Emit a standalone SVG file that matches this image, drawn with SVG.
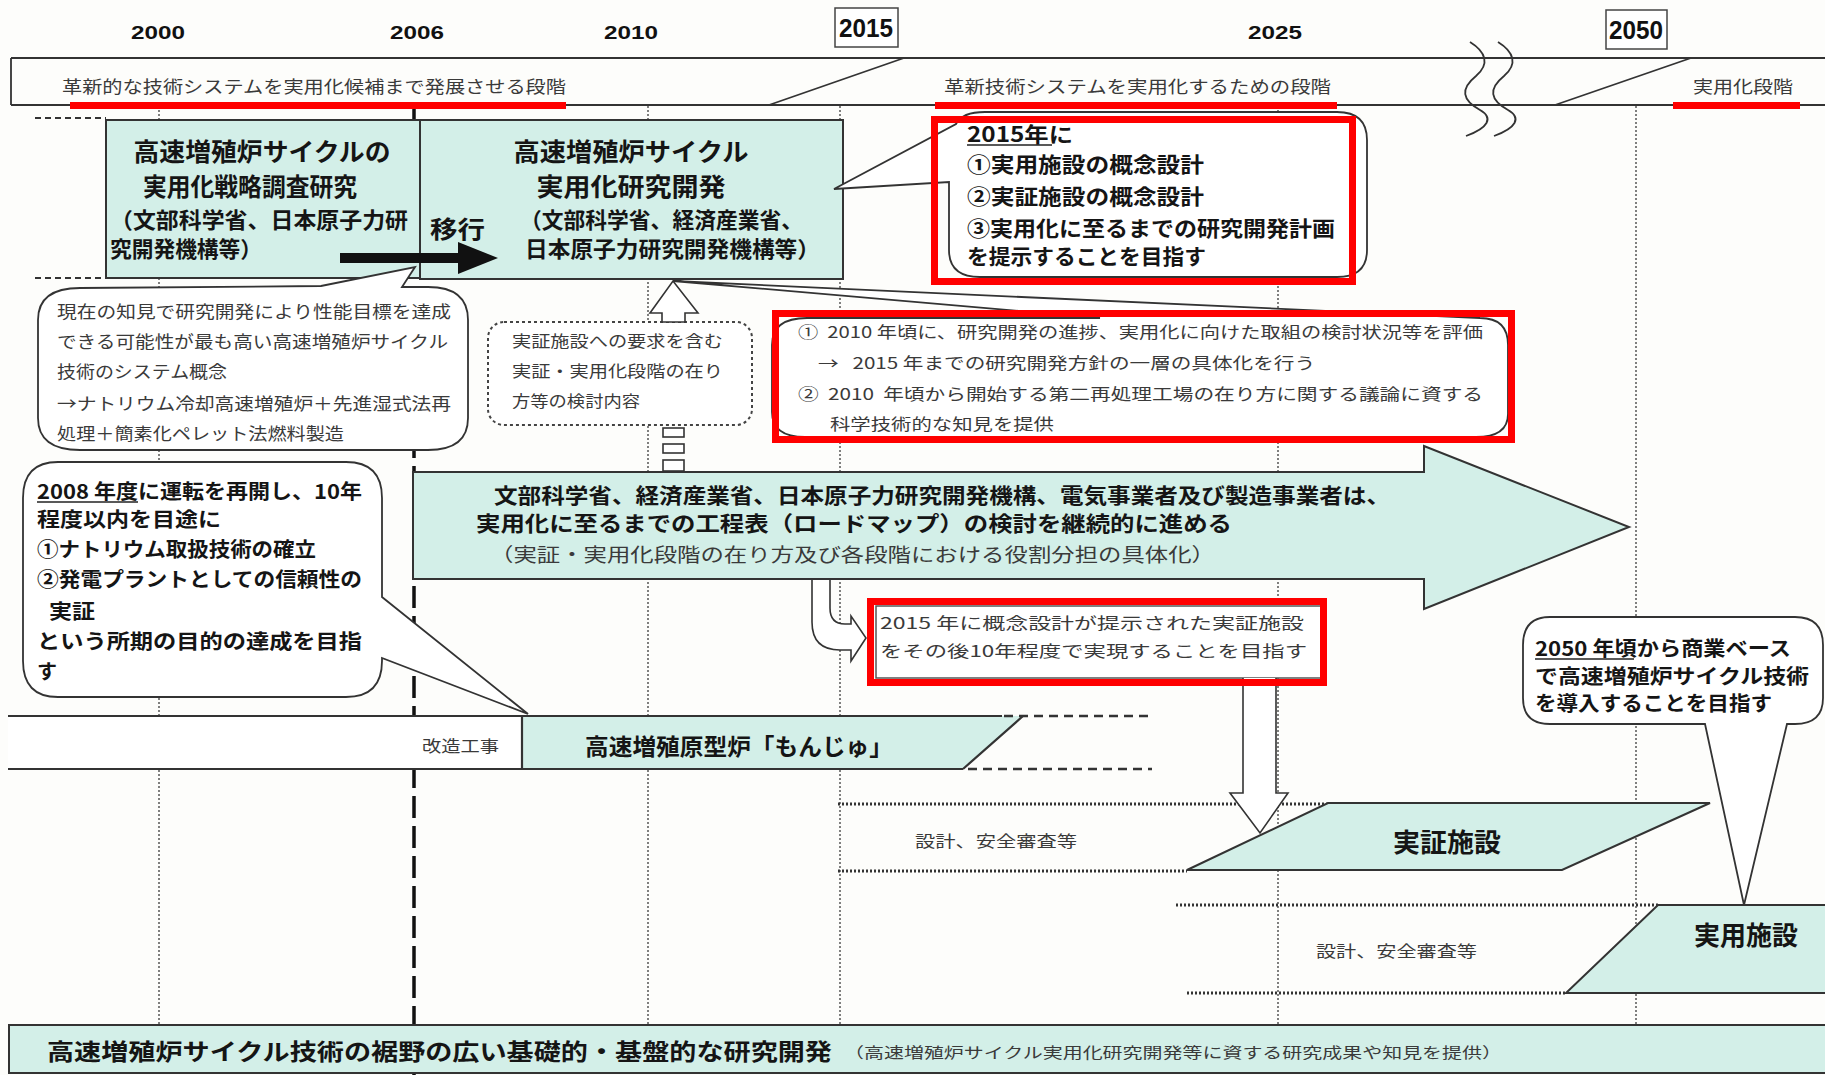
<svg xmlns="http://www.w3.org/2000/svg" width="1825" height="1075" viewBox="0 0 1825 1075">
<defs>
<style>
.bg{fill:#fdfdfb}
.cy{fill:#d3efe8;stroke:#333;stroke-width:2}
.wb{fill:#fff;stroke:#333;stroke-width:1.8}
.ln{fill:none;stroke:#333;stroke-width:1.8}
.grid{fill:none;stroke:#555;stroke-width:1.5;stroke-dasharray:2 2}
.g06{fill:none;stroke:#111;stroke-width:3.5;stroke-dasharray:22 8}
.hd{fill:none;stroke:#333;stroke-width:2.5;stroke-dasharray:9 6}
.hdot{fill:none;stroke:#333;stroke-width:3;stroke-dasharray:2 2}
.dotb{fill:#fff;stroke:#444;stroke-width:2;stroke-dasharray:3 3}
.red{fill:none;stroke:#f00;stroke-width:7}
.redf{fill:#f00}
.ul{stroke:#222;stroke-width:1.5}
text{font-family:"Noto Sans CJK JP","Noto Sans",sans-serif;dominant-baseline:central}
.b{font-weight:700;fill:#151515}
.r{font-weight:400;fill:#3a3a3a}
.yr{font-family:"Liberation Sans",Arial,sans-serif;font-weight:700;fill:#111;text-anchor:middle}
.c{text-anchor:middle}
</style>
</defs>
<rect class="bg" x="0" y="0" width="1825" height="1075"/>

<g id="years">
<text class="yr" x="158" y="32" font-size="19" textLength="54" lengthAdjust="spacingAndGlyphs">2000</text>
<text class="yr" x="417" y="32" font-size="19" textLength="54" lengthAdjust="spacingAndGlyphs">2006</text>
<text class="yr" x="631" y="32" font-size="19" textLength="54" lengthAdjust="spacingAndGlyphs">2010</text>
<rect x="835" y="8" width="63" height="39" fill="#fff" stroke="#444" stroke-width="1.5"/>
<text class="yr" x="866" y="28" font-size="26" textLength="54" lengthAdjust="spacingAndGlyphs">2015</text>
<text class="yr" x="1275" y="32" font-size="19" textLength="54" lengthAdjust="spacingAndGlyphs">2025</text>
<rect x="1606" y="10" width="61" height="39" fill="#fff" stroke="#444" stroke-width="1.5"/>
<text class="yr" x="1636" y="30" font-size="26" textLength="54" lengthAdjust="spacingAndGlyphs">2050</text>
</g>

<g id="phase-banner">
<path class="ln" d="M11 58 H1825 M11 105 H1825 M11 58 V105"/>
<path class="ln" d="M769 105 L904 58 M1555 105 L1691 58"/>
<path class="ln" d="M1470 42 C1486 52 1490 64 1476 76 C1460 89 1462 100 1480 110 C1494 118 1488 128 1466 136"/>
<path class="ln" d="M1498 42 C1514 52 1518 64 1504 76 C1488 89 1490 100 1508 110 C1522 118 1516 128 1494 136"/>
<text class="r" x="62" y="85" font-size="17" fill="#444" textLength="504" lengthAdjust="spacingAndGlyphs">革新的な技術システムを実用化候補まで発展させる段階</text>
<text class="r" x="944" y="85" font-size="17" textLength="387" lengthAdjust="spacingAndGlyphs">革新技術システムを実用化するための段階</text>
<text class="r" x="1693" y="85" font-size="17" textLength="100" lengthAdjust="spacingAndGlyphs">実用化段階</text>
</g>

<g id="grid">
<path class="grid" d="M159 106 V1025 M648 106 V1025 M840 106 V1025 M1278 106 V1025 M1636 106 V1025"/>
<path class="g06" d="M414 106 V1075"/>
<path class="ln" style="stroke-width:2;stroke-dasharray:6 4" d="M35 118 H106 M35 278 H106"/>
<path class="hdot" d="M838 804 H1328 M838 871 H1187 M1176 905 H1658 M1187 993 H1566"/>
</g>

<g id="box-strategy">
<rect class="cy" x="106" y="120" width="314" height="158"/>
<text class="b c" x="262" y="150" font-size="25" textLength="257" lengthAdjust="spacingAndGlyphs">高速増殖炉サイクルの</text>
<text class="b c" x="250" y="185" font-size="25" textLength="214" lengthAdjust="spacingAndGlyphs">実用化戦略調査研究</text>
<text class="b" x="110" y="218" font-size="22" textLength="298" lengthAdjust="spacingAndGlyphs">（文部科学省、日本原子力研</text>
<text class="b" x="110" y="247" font-size="22" textLength="152" lengthAdjust="spacingAndGlyphs">究開発機構等）</text>
</g>

<g id="box-rd">
<rect class="cy" x="420" y="120" width="423" height="159"/>
<text class="b c" x="631" y="150" font-size="25" textLength="235" lengthAdjust="spacingAndGlyphs">高速増殖炉サイクル</text>
<text class="b c" x="631" y="185" font-size="25" textLength="189" lengthAdjust="spacingAndGlyphs">実用化研究開発</text>
<text class="b" x="520" y="218" font-size="22" textLength="283" lengthAdjust="spacingAndGlyphs">（文部科学省、経済産業省、</text>
<text class="b" x="525" y="247" font-size="22" textLength="295" lengthAdjust="spacingAndGlyphs">日本原子力研究開発機構等）</text>
<text class="b" x="430" y="227" font-size="24" textLength="55" lengthAdjust="spacingAndGlyphs">移行</text>
</g>

<g id="callout-2015">
<path class="wb" d="M985 112 L1337 112 Q1367 112 1367 140 L1367 250 Q1367 277 1337 277 L980 277 Q949 277 949 250 L949 182 L834 189 L956 124 Q962 112 985 112 Z"/>
<text class="b" x="967" y="133" font-size="21" textLength="106" lengthAdjust="spacingAndGlyphs">2015年に</text>
<path class="ul" d="M967 145 H1052"/>
<text class="b" x="967" y="163" font-size="21" textLength="237" lengthAdjust="spacingAndGlyphs">①実用施設の概念設計</text>
<text class="b" x="967" y="195" font-size="21" textLength="237" lengthAdjust="spacingAndGlyphs">②実証施設の概念設計</text>
<text class="b" x="967" y="227" font-size="21" textLength="368" lengthAdjust="spacingAndGlyphs">③実用化に至るまでの研究開発計画</text>
<text class="b" x="967" y="255" font-size="21" textLength="239" lengthAdjust="spacingAndGlyphs">を提示することを目指す</text>
</g>

<g id="callout-concept">
<path class="wb" d="M38 320 Q38 288 80 288 L321 286 L415 267 L402 287 L428 287 Q468 287 468 320 L468 418 Q468 450 428 450 L80 450 Q38 450 38 418 Z"/>
<text class="r" x="57" y="310" font-size="17" textLength="394" lengthAdjust="spacingAndGlyphs">現在の知見で研究開発により性能目標を達成</text>
<text class="r" x="57" y="340" font-size="17" textLength="391" lengthAdjust="spacingAndGlyphs">できる可能性が最も高い高速増殖炉サイクル</text>
<text class="r" x="57" y="370" font-size="17" textLength="170" lengthAdjust="spacingAndGlyphs">技術のシステム概念</text>
<text class="r" x="57" y="402" font-size="17" textLength="394" lengthAdjust="spacingAndGlyphs">→ナトリウム冷却高速増殖炉＋先進湿式法再</text>
<text class="r" x="57" y="432" font-size="17" textLength="287" lengthAdjust="spacingAndGlyphs">処理＋簡素化ペレット法燃料製造</text>
</g>

<g id="callout-requirements">
<rect class="dotb" x="488" y="322" width="264" height="103" rx="16"/>
<text class="r" x="512" y="340" font-size="16" textLength="211" lengthAdjust="spacingAndGlyphs">実証施設への要求を含む</text>
<text class="r" x="512" y="370" font-size="16" textLength="211" lengthAdjust="spacingAndGlyphs">実証・実用化段階の在り</text>
<text class="r" x="512" y="400" font-size="16" textLength="128" lengthAdjust="spacingAndGlyphs">方等の検討内容</text>
</g>

<g id="callout-evaluation">
<path class="wb" d="M807 318 L1100 318 L673 281 L1480 318 Q1508 318 1508 345 L1508 414 Q1508 437 1476 437 L805 437 Q772 437 772 412 L772 345 Q772 318 807 318 Z"/>
<text class="r" x="798" y="331" font-size="16" textLength="685" lengthAdjust="spacingAndGlyphs">①&#160;&#160;2010 年頃に、研究開発の進捗、実用化に向けた取組の検討状況等を評価</text>
<text class="r" x="818" y="362" font-size="16" textLength="497" lengthAdjust="spacingAndGlyphs">→&#160;&#160;&#160;2015 年までの研究開発方針の一層の具体化を行う</text>
<text class="r" x="798" y="393" font-size="16" textLength="685" lengthAdjust="spacingAndGlyphs">②&#160;&#160;2010&#160;&#160;年頃から開始する第二再処理工場の在り方に関する議論に資する</text>
<text class="r" x="830" y="423" font-size="16" textLength="224" lengthAdjust="spacingAndGlyphs">科学技術的な知見を提供</text>
</g>

<g id="roadmap-arrow">
<path class="cy" d="M413 472 L1424 472 L1424 446 L1629 527 L1424 609 L1424 579 L413 579 Z"/>
<text class="b" x="494" y="494" font-size="21" textLength="896" lengthAdjust="spacingAndGlyphs">文部科学省、経済産業省、日本原子力研究開発機構、電気事業者及び製造事業者は、</text>
<text class="b" x="476" y="522" font-size="21" textLength="756" lengthAdjust="spacingAndGlyphs">実用化に至るまでの工程表（ロードマップ）の検討を継続的に進める</text>
<text class="r" x="490" y="553" font-size="19" textLength="725" lengthAdjust="spacingAndGlyphs">（実証・実用化段階の在り方及び各段階における役割分担の具体化）</text>
</g>

<g id="box-demo-goal">
<rect x="876" y="606" width="449" height="72" fill="#fff" stroke="#555" stroke-width="1.5"/>
<text class="r" x="880" y="622" font-size="16" textLength="424" lengthAdjust="spacingAndGlyphs">2015 年に概念設計が提示された実証施設</text>
<text class="r" x="880" y="650" font-size="16" textLength="427" lengthAdjust="spacingAndGlyphs">をその後10年程度で実現することを目指す</text>
</g>

<g id="callout-monju">
<path class="wb" d="M58 462 L346 462 Q382 462 382 498 L382 597 L528 714 L382 658 L382 661 Q382 697 346 697 L58 697 Q23 697 23 661 L23 498 Q23 462 58 462 Z"/>
<text class="b" x="37" y="490" font-size="20" textLength="325" lengthAdjust="spacingAndGlyphs">2008 年度に運転を再開し、10年</text>
<path class="ul" d="M37 502 H138"/>
<text class="b" x="37" y="518" font-size="20" textLength="184" lengthAdjust="spacingAndGlyphs">程度以内を目途に</text>
<text class="b" x="37" y="548" font-size="20" textLength="279" lengthAdjust="spacingAndGlyphs">①ナトリウム取扱技術の確立</text>
<text class="b" x="37" y="578" font-size="20" textLength="325" lengthAdjust="spacingAndGlyphs">②発電プラントとしての信頼性の</text>
<text class="b" x="49" y="610" font-size="20" textLength="46" lengthAdjust="spacingAndGlyphs">実証</text>
<text class="b" x="37" y="640" font-size="20" textLength="325" lengthAdjust="spacingAndGlyphs">という所期の目的の達成を目指</text>
<text class="b" x="37" y="670" font-size="20">す</text>
</g>

<g id="monju-bar">
<rect x="8" y="716" width="514" height="53" fill="#fff"/>
<path class="cy" d="M522 716 L1023 716 L963 769 L522 769 Z" style="stroke:none"/>
<path class="ln" style="stroke-width:2.2" d="M8 716 H1002 M8 769 H963 M522 716 V769 M1023 716 L963 769"/>
<path class="hd" d="M1004 716 H1152 M968 769 H1152"/>
<text class="r" x="422" y="745" font-size="16" textLength="77" lengthAdjust="spacingAndGlyphs">改造工事</text>
<text class="b" x="585" y="745" font-size="23" textLength="308" lengthAdjust="spacingAndGlyphs">高速増殖原型炉「もんじゅ」</text>
</g>

<g id="demo-facility">
<path class="cy" d="M1328 803 L1710 803 L1562 870 L1187 870 Z"/>
<text class="b c" x="1447" y="840" font-size="26" textLength="108" lengthAdjust="spacingAndGlyphs">実証施設</text>
<text class="r" x="915" y="840" font-size="16" textLength="162" lengthAdjust="spacingAndGlyphs">設計、安全審査等</text>
</g>

<g id="commercial-facility">
<path class="cy" d="M1658 905 L1840 905 L1840 993 L1566 993 Z"/>
<text class="b c" x="1746" y="933" font-size="26" textLength="104" lengthAdjust="spacingAndGlyphs">実用施設</text>
<text class="r" x="1316" y="950" font-size="16" textLength="161" lengthAdjust="spacingAndGlyphs">設計、安全審査等</text>
</g>

<g id="callout-2050">
<path class="wb" d="M1550 617 L1795 617 Q1823 617 1823 645 L1823 698 Q1823 724 1795 724 L1787 724 L1744 905 L1705 724 L1550 724 Q1523 724 1523 698 L1523 645 Q1523 617 1550 617 Z"/>
<text class="b" x="1535" y="647" font-size="20" textLength="256" lengthAdjust="spacingAndGlyphs">2050 年頃から商業ベース</text>
<path class="ul" d="M1535 659 H1634"/>
<text class="b" x="1535" y="675" font-size="20" textLength="274" lengthAdjust="spacingAndGlyphs">で高速増殖炉サイクル技術</text>
<text class="b" x="1535" y="702" font-size="20" textLength="237" lengthAdjust="spacingAndGlyphs">を導入することを目指す</text>
</g>

<g id="basic-research-bar">
<rect class="cy" x="9" y="1025" width="1830" height="48"/>
<text class="b" x="47" y="1050" font-size="23" textLength="785" lengthAdjust="spacingAndGlyphs">高速増殖炉サイクル技術の裾野の広い基礎的・基盤的な研究開発</text>
<text class="r" x="844" y="1051" font-size="15" textLength="658" lengthAdjust="spacingAndGlyphs">（高速増殖炉サイクル実用化研究開発等に資する研究成果や知見を提供）</text>
</g>

<g id="connectors">
<path fill="#111" d="M340 253 L458 253 L458 242 L498 258 L458 274 L458 263 L340 263 Z"/>
<path class="wb" style="stroke-width:1.6" d="M662 322 L662 313 L650 313 L673 281 L698 313 L685 313 L685 322 Z"/>
<g class="wb" style="stroke-width:1.6">
<rect x="663" y="428" width="21" height="9"/>
<rect x="663" y="444" width="21" height="9"/>
<rect x="663" y="460" width="21" height="11"/>
</g>
<path class="wb" style="stroke-width:1.6" d="M812 580 L812 622 Q812 650 840 650 L851 650 L851 661 L866 638 L851 616 L851 624 L845 624 Q830 624 830 608 L830 580"/>
<path class="wb" style="stroke-width:1.6" d="M1243 678 L1243 793 L1230 793 L1260 833 L1288 793 L1276 793 L1276 678"/>
</g>

<g id="highlights">
<rect class="redf" x="70" y="102" width="496" height="7"/>
<rect class="redf" x="935" y="102" width="402" height="7"/>
<rect class="redf" x="1673" y="102" width="127" height="7"/>
<rect class="red" x="934.5" y="119.5" width="418" height="162"/>
<rect class="red" x="775.5" y="313.5" width="736" height="126"/>
<rect class="red" x="870.5" y="601.5" width="453" height="81"/>
</g>
</svg>
